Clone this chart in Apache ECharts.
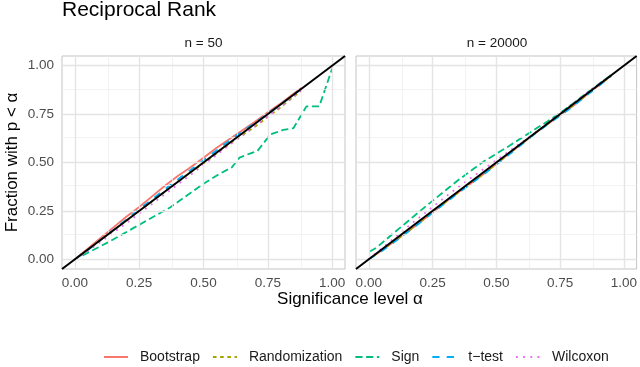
<!DOCTYPE html>
<html>
<head>
<meta charset="utf-8">
<title>Reciprocal Rank</title>
<script src="https://cdn.jsdelivr.net/npm/echarts@6.0.0/dist/echarts.min.js"></script>
<style>
  html, body { margin: 0; padding: 0; background: #fff; }
  #chart { width: 640px; height: 367px; }
</style>
</head>
<body>
<div id="chart"></div>
<script>
// tick labels / grid breaks
const majorBreaks = [0, 0.25, 0.5, 0.75, 1];
const minorBreaks = [0.125, 0.375, 0.625, 0.875];
const diagonal = [-0.05, 1.05];

// n = 50 panel
const alpha50 = [0, 0.05, 0.1, 0.15, 0.2, 0.25, 0.3, 0.35, 0.4, 0.45, 0.5, 0.55, 0.6, 0.65, 0.7, 0.75, 0.8, 0.85, 0.88];
const bootstrap50 = [0, 0.055, 0.11, 0.165, 0.22, 0.27, 0.325, 0.38, 0.43, 0.475, 0.525, 0.575, 0.62, 0.665, 0.71, 0.76, 0.805, 0.855, 0.885];
const randomization50 = [0, 0.048, 0.1, 0.15, 0.2, 0.25, 0.3, 0.35, 0.4, 0.45, 0.495, 0.545, 0.595, 0.64, 0.685, 0.735, 0.785, 0.84, 0.87];
const ttest50 = [0, 0.047, 0.1, 0.152, 0.205, 0.258, 0.31, 0.362, 0.412, 0.462, 0.512, 0.562, 0.612, 0.66, 0.705, 0.752, 0.8, 0.85, 0.88];
const wilcoxon50 = [0, 0.042, 0.09, 0.138, 0.186, 0.236, 0.286, 0.336, 0.386, 0.436, 0.488, 0.538, 0.59, 0.638, 0.688, 0.738, 0.788, 0.838, 0.87];
const signAlpha50 = [0.03, 0.125, 0.25, 0.37, 0.5, 0.56, 0.61, 0.64, 0.68, 0.71, 0.76, 0.81, 0.85, 0.9, 0.95, 1.0];
const sign50 = [0.02, 0.085, 0.178, 0.268, 0.39, 0.44, 0.475, 0.525, 0.546, 0.56, 0.645, 0.668, 0.678, 0.79, 0.79, 0.985];

// n = 20000 panel
const alpha20k = [0, 0.05, 0.1, 0.15, 0.2, 0.25, 0.3, 0.35, 0.4, 0.45, 0.5, 0.55, 0.6, 0.65, 0.7, 0.75, 0.8, 0.85, 0.9, 0.95];
const bootstrap20k = [0, 0.045, 0.092, 0.14, 0.19, 0.242, 0.295, 0.345, 0.392, 0.44, 0.492, 0.546, 0.597, 0.65, 0.698, 0.744, 0.792, 0.844, 0.896, 0.948];
const randomization20k = [0, 0.046, 0.093, 0.141, 0.191, 0.243, 0.294, 0.344, 0.393, 0.441, 0.493, 0.545, 0.597, 0.649, 0.697, 0.745, 0.793, 0.845, 0.897, 0.948];
const ttest20k = [0, 0.042, 0.089, 0.138, 0.188, 0.24, 0.291, 0.342, 0.39, 0.438, 0.489, 0.541, 0.594, 0.647, 0.696, 0.742, 0.79, 0.842, 0.894, 0.946];
const wilcoxon20k = [0, 0.055, 0.11, 0.165, 0.218, 0.27, 0.322, 0.372, 0.42, 0.466, 0.512, 0.558, 0.605, 0.652, 0.702, 0.753, 0.804, 0.854, 0.903, 0.952];
const signAlpha20k = [0.004, 0.03, 0.1, 0.15, 0.2, 0.25, 0.3, 0.35, 0.4, 0.45, 0.5, 0.55, 0.6, 0.65, 0.7, 0.75, 0.8, 0.85, 0.9, 0.95];
const sign20k = [0.04, 0.06, 0.138, 0.193, 0.248, 0.302, 0.355, 0.408, 0.457, 0.505, 0.545, 0.585, 0.628, 0.67, 0.712, 0.755, 0.804, 0.854, 0.903, 0.952];

const FONT = "'Liberation Sans', Arial, sans-serif";

// method -> colour / line type
const methods = [
  { name: "Bootstrap", color: "#F8766D", dash: "solid", d50: [alpha50, bootstrap50], d20k: [alpha20k, bootstrap20k] },
  { name: "Randomization", color: "#A3A500", dash: [3.6, 3.6], d50: [alpha50, randomization50], d20k: [alpha20k, randomization20k] },
  { name: "Sign", color: "#00BF7D", dash: [7.2, 3.6], d50: [signAlpha50, sign50], d20k: [signAlpha20k, sign20k] },
  { name: "t\u2212test", color: "#00B0F6", dash: [7.2, 7.2], d50: [alpha50, ttest50], d20k: [alpha20k, ttest20k] },
  { name: "Wilcoxon", color: "#E76BF3", dash: [1.8, 5.4], d50: [alpha50, wilcoxon50], d20k: [alpha20k, wilcoxon20k] },
];

const zip = (xs, ys) => xs.map((x, i) => [x, ys[i]]);

function gridLines(idx) {
  const line = (v, key, major) => ({
    [key]: v,
    lineStyle: { color: major ? "#e4e4e4" : "#efefef", width: major ? 1.4 : 0.8, type: "solid" },
  });
  return {
    type: "line",
    xAxisIndex: idx,
    yAxisIndex: idx,
    data: [],
    silent: true,
    z: 0,
    markLine: {
      silent: true,
      symbol: "none",
      label: { show: false },
      animation: false,
      data: [
        ...minorBreaks.map((v) => line(v, "xAxis", false)),
        ...minorBreaks.map((v) => line(v, "yAxis", false)),
        ...majorBreaks.map((v) => line(v, "xAxis", true)),
        ...majorBreaks.map((v) => line(v, "yAxis", true)),
      ],
    },
  };
}

function axisX(idx) {
  return {
    type: "value",
    gridIndex: idx,
    min: -0.05,
    max: 1.05,
    splitLine: { show: false },
    axisLine: { show: false },
    axisTick: { show: false },
    axisLabel: {
      customValues: majorBreaks,
      formatter: (v) => v.toFixed(2),
      color: "#4d4d4d",
      fontSize: 13.5,
      fontFamily: FONT,
      margin: 7,
    },
  };
}

function axisY(idx) {
  return {
    type: "value",
    gridIndex: idx,
    min: -0.05,
    max: 1.05,
    splitLine: { show: false },
    axisLine: { show: false },
    axisTick: { show: false },
    axisLabel: {
      show: idx === 0,
      customValues: majorBreaks,
      formatter: (v) => v.toFixed(2),
      color: "#4d4d4d",
      fontSize: 13.5,
      fontFamily: FONT,
      margin: 8,
    },
    name: idx === 0 ? "Fraction with p < \u03b1" : "",
    nameLocation: "middle",
    nameGap: 41,
    nameTextStyle: { color: "#000", fontSize: 17, fontFamily: FONT },
  };
}

const series = [gridLines(0), gridLines(1)];
[0, 1].forEach((idx) => {
  methods.forEach((m) => {
    series.push({
      name: m.name,
      type: "line",
      xAxisIndex: idx,
      yAxisIndex: idx,
      data: idx === 0 ? zip(...m.d50) : zip(...m.d20k),
      symbol: "none",
      color: m.color,
      lineStyle: { width: 1.8, type: m.dash, color: m.color },
      z: 2,
    });
  });
  series.push({
    name: "diagonal",
    type: "line",
    xAxisIndex: idx,
    yAxisIndex: idx,
    data: zip(diagonal, diagonal),
    symbol: "none",
    lineStyle: { width: 2, color: "#000", type: "solid" },
    z: 5,
  });
});

const chart = echarts.init(document.getElementById("chart"), null, { renderer: "canvas" });
chart.setOption({
  animation: false,
  backgroundColor: "#fff",
  title: [
    { text: "Reciprocal Rank", left: 62, top: 0, padding: 0, textStyle: { fontSize: 21, fontWeight: "normal", color: "#000", fontFamily: FONT } },
    { text: "n = 50", left: 203.5, top: 36, padding: 0, textAlign: "center", textStyle: { fontSize: 13.5, fontWeight: "normal", color: "#1a1a1a", fontFamily: FONT } },
    { text: "n = 20000", left: 497, top: 36, padding: 0, textAlign: "center", textStyle: { fontSize: 13.5, fontWeight: "normal", color: "#1a1a1a", fontFamily: FONT } },
    { text: "Significance level \u03b1", left: 350, top: 291, padding: 0, textAlign: "center", textStyle: { fontSize: 17, fontWeight: "normal", color: "#000", fontFamily: FONT } },
  ],
  grid: [
    { left: 62, right: 295, top: 56, bottom: 98, show: true, borderColor: "#c4c4c4", borderWidth: 1, backgroundColor: "#fff" },
    { left: 356, right: 2, top: 56, bottom: 98, show: true, borderColor: "#c4c4c4", borderWidth: 1, backgroundColor: "#fff" },
  ],
  xAxis: [axisX(0), axisX(1)],
  yAxis: [axisY(0), axisY(1)],
  legend: {
    data: methods.map((m) => m.name),
    left: 103,
    top: 350,
    padding: 0,
    itemWidth: 24,
    itemHeight: 14,
    itemGap: 12,
    itemStyle: { opacity: 0 },
    textStyle: { fontSize: 14, color: "#1a1a1a", fontFamily: FONT, padding: [0, 0, 0, 7] },
  },
  series: series,
});
</script>
</body>
</html>
